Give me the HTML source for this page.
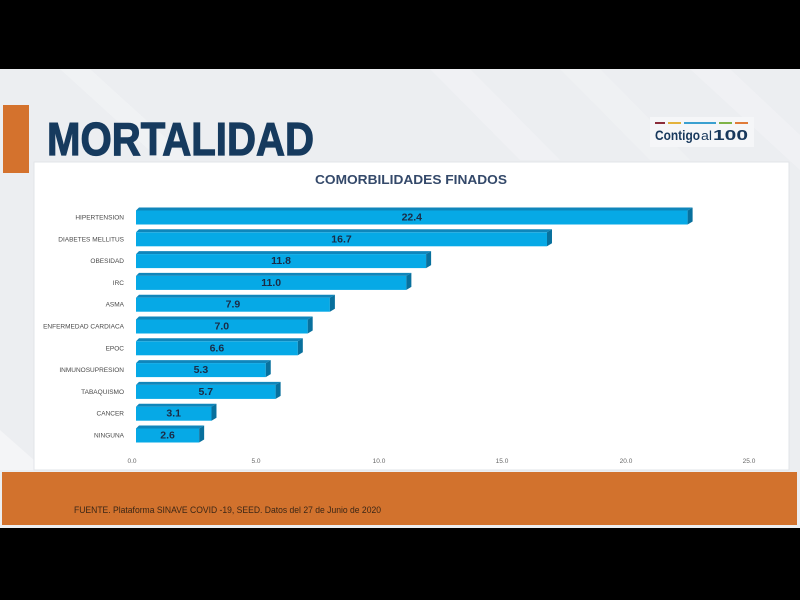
<!DOCTYPE html>
<html><head><meta charset="utf-8"><style>
html,body{margin:0;padding:0;background:#000;}
svg{display:block;}
</style></head><body>
<svg width="800" height="600" viewBox="0 0 800 600" xmlns="http://www.w3.org/2000/svg">
<rect x="0" y="0" width="800" height="600" fill="#000"/>
<!-- slide bg -->
<rect x="0" y="69" width="800" height="459" fill="#eceef1"/>
<polygon points="60,69 90,69 190,160 160,160" fill="#f4f5f7" opacity="0.6"/>
<polygon points="430,69 470,69 560,160 520,160" fill="#f3f4f6" opacity="0.6"/>
<polygon points="560,69 600,69 690,160 650,160" fill="#f2f3f5" opacity="0.6"/>
<polygon points="690,69 730,69 800,135 800,170" fill="#f3f4f6" opacity="0.6"/>
<polygon points="0,430 0,470 34,470 34,460" fill="#f4f5f7"/>
<!-- orange left tab -->
<rect x="3" y="105" width="26" height="68" fill="#d4722d"/>
<!-- Title -->
<text transform="translate(47,155) scale(1,1.17)" x="0" y="0" font-family="Liberation Sans, sans-serif" font-weight="bold" font-size="40" fill="#163a5e" stroke="#163a5e" stroke-width="1" textLength="267" lengthAdjust="spacingAndGlyphs">MORTALIDAD</text>
<!-- Logo -->
<rect x="650" y="117" width="104" height="30" fill="#f5f6f8"/>
<rect x="655" y="122" width="10" height="2" fill="#8b2d3a"/>
<rect x="668" y="122" width="13" height="2" fill="#e3b23c"/>
<rect x="684" y="122" width="32" height="2" fill="#3aa0d0"/>
<rect x="719" y="122" width="13" height="2" fill="#7fb347"/>
<rect x="735" y="122" width="13" height="2" fill="#e07b39"/>
<text x="655" y="140" font-family="Liberation Sans, sans-serif" font-weight="bold" font-size="14" fill="#17385c" textLength="45" lengthAdjust="spacingAndGlyphs">Contigo</text>
<text x="701" y="140" font-family="Liberation Sans, sans-serif" font-size="13" fill="#17385c" textLength="11" lengthAdjust="spacingAndGlyphs">al</text>
<text x="713" y="140" font-family="Liberation Sans, sans-serif" font-weight="bold" font-size="14.5" fill="#17385c" textLength="35" lengthAdjust="spacingAndGlyphs">100</text>
<!-- chart box -->
<rect x="34" y="162" width="755" height="308" fill="#ffffff" stroke="#e2e4e8" stroke-width="1"/>
<text x="411" y="184" text-anchor="middle" font-family="Liberation Sans, sans-serif" font-weight="bold" font-size="13" fill="#34496a" textLength="192" lengthAdjust="spacingAndGlyphs">COMORBILIDADES FINADOS</text>
<g id="bars" font-family="Liberation Sans, sans-serif"></g>
<!-- axis labels -->
<g font-family="Liberation Sans, sans-serif" font-size="6.5" fill="#666" text-anchor="middle">
<text x="132" y="463">0.0</text>
<text x="256" y="463">5.0</text>
<text x="379" y="463">10.0</text>
<text x="502" y="463">15.0</text>
<text x="626" y="463">20.0</text>
<text x="749" y="463">25.0</text>
</g>
<!-- footer -->
<rect x="2" y="472" width="795" height="53" fill="#d2722d"/>
<text x="74" y="513" font-family="Liberation Sans, sans-serif" font-size="9.5" fill="#3a2616" textLength="307" lengthAdjust="spacingAndGlyphs">FUENTE. Plataforma SINAVE COVID -19, SEED. Datos del 27 de Junio de 2020</text>
</svg>
<script>
(function(){
var data=[["HIPERTENSION",22.4],["DIABETES MELLITUS",16.7],["OBESIDAD",11.8],["IRC",11.0],["ASMA",7.9],["ENFERMEDAD CARDIACA",7.0],["EPOC",6.6],["INMUNOSUPRESION",5.3],["TABAQUISMO",5.7],["CANCER",3.1],["NINGUNA",2.6]];
var ns="http://www.w3.org/2000/svg";
var g=document.getElementById("bars");
function el(t,a,txt){var e=document.createElementNS(ns,t);for(var k in a)e.setAttribute(k,a[k]);if(txt!==undefined)e.textContent=txt;g.appendChild(e);return e;}
for(var i=0;i<data.length;i++){
 var top=207.5+i*21.8, bot=top+17;
 var x0=136, x1=135+data[i][1]*24.67;
 el("polygon",{points:(x0)+","+(top+3)+" "+(x0+3)+","+top+" "+(x1+5)+","+top+" "+(x1)+","+(top+3),fill:"#0f86bb"});
 el("rect",{x:x0,y:top+3,width:x1-x0,height:bot-top-3,fill:"#06a9e6"});
 el("polygon",{points:x1+","+(top+3)+" "+(x1+5)+","+top+" "+(x1+5)+","+(bot-3)+" "+x1+","+bot,fill:"#08709d"});
 el("text",{x:(x0+x1)/2,y:top+13,"text-anchor":"middle","font-size":"10.5","font-weight":"bold",fill:"#1b2b45"},data[i][1].toFixed(1));
 el("text",{x:124,y:top+12,"text-anchor":"end","font-size":"6.5",fill:"#4a4a4a"},data[i][0]);
}
})();
</script>
</body></html>
